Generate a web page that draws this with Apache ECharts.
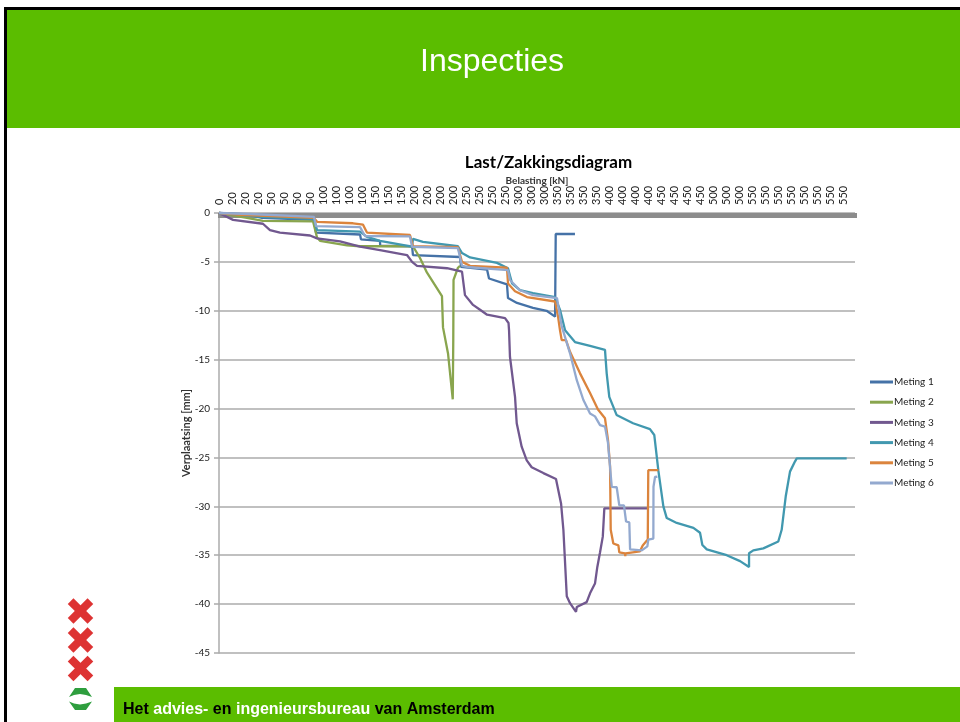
<!DOCTYPE html>
<html><head><meta charset="utf-8">
<style>html,body{margin:0;padding:0;background:#fff}#c{width:960px;height:722px}</style>
<script src="https://cdn.jsdelivr.net/npm/echarts@6/dist/echarts.min.js"></script>
</head><body><div id="c"></div>
<script>
// X values are positions along the ordinal load axis (0 = first reading); Y values are mm.
const tickLabels = ['0','20','20','20','50','50','50','50','100','100','100','100','150','150','150','200','200','200','200','250','250','250','250','300','300','300','350','350','350','350','400','400','400','400','450','450','450','450','500','500','500','550','550','550','550','550','550','550','550'];
const meting1 = [[0,0],[2.15,-0.15],[3.31,-0.5],[7.31,-0.7],[7.46,-2],[10.85,-2.2],[10.92,-2.7],[12.38,-2.85],[12.4,-3.35],[14.85,-3.4],[14.92,-4.3],[18.54,-4.5],[18.62,-5.5],[20.62,-5.8],[20.77,-6.7],[22.15,-7.3],[22.23,-8.7],[22.92,-9.2],[24.15,-9.7],[25.2,-10],[25.85,-10.6],[25.9,-2.15],[27.38,-2.15]];
const meting2 = [[0,0],[2.15,-0.5],[3.38,-0.8],[7.23,-0.85],[7.54,-2.5],[7.77,-2.85],[9.85,-3.3],[10.85,-3.4],[14.92,-3.4],[15.46,-4.6],[16,-6.1],[17.15,-8.5],[17.23,-11.7],[17.62,-14.4],[17.98,-19.05],[18.02,-13],[18.04,-6.85],[18.38,-5.6],[18.54,-5.4]];
const meting3 = [[0,0],[1.08,-0.7],[3.38,-1.1],[3.92,-1.75],[4.69,-2],[7,-2.3],[7.54,-2.6],[9.31,-2.9],[10.85,-3.45],[12.38,-3.8],[14.46,-4.3],[14.85,-5],[15.23,-5.4],[17.54,-5.65],[18.69,-6],[18.92,-8.4],[19.54,-9.4],[20.08,-9.9],[20.62,-10.4],[22,-10.75],[22.27,-11.25],[22.31,-12],[22.38,-14.7],[22.77,-18.8],[22.9,-21.5],[23.28,-23.9],[23.67,-25.3],[24.05,-26],[24.95,-26.6],[25.92,-27.2],[26.31,-29.7],[26.49,-32.4],[26.62,-35.8],[26.75,-39.2],[27,-39.9],[27.46,-40.8],[27.52,-40.3],[28.28,-39.8],[28.54,-38.9],[28.92,-37.9],[29.1,-36.2],[29.31,-34.7],[29.52,-33.1],[29.64,-30.2],[33.02,-30.2]];
const meting4 = [[0,0],[3.31,-0.4],[7.31,-0.6],[7.54,-1.75],[10.85,-1.9],[11.38,-2.45],[12.38,-2.85],[14.85,-3.45],[14.92,-2.65],[15.69,-2.95],[18.38,-3.4],[18.69,-4.1],[19.31,-4.55],[21.38,-5.1],[22.23,-5.65],[22.54,-7.2],[23.15,-7.9],[24.15,-8.2],[25.85,-8.6],[26.23,-9.9],[26.62,-12],[27.38,-13.2],[28.54,-13.6],[29.69,-14],[29.82,-16.4],[30.02,-18.8],[30.58,-20.65],[31.85,-21.5],[33.15,-22.1],[33.48,-22.7],[33.79,-26.3],[34.18,-30],[34.44,-31.2],[35.21,-31.7],[36.49,-32.2],[37,-32.7],[37.18,-33.95],[37.52,-34.4],[39.05,-35],[40.08,-35.6],[40.77,-36.2],[40.77,-34.8],[41.1,-34.5],[41.87,-34.3],[43.02,-33.6],[43.28,-32.4],[43.59,-29],[43.92,-26.45],[44.31,-25.4],[44.44,-25.1],[48.28,-25.1]];
const meting5 = [[0,0],[1.62,-0.2],[7.31,-0.5],[7.54,-0.9],[10.31,-1.05],[11.08,-1.2],[11.38,-2],[14.69,-2.25],[14.92,-3.4],[18.38,-3.5],[18.69,-5],[19.31,-5.4],[22.15,-5.6],[22.23,-7.2],[22.77,-8],[23.69,-8.6],[25.85,-9.05],[26.08,-10.6],[26.23,-12],[26.36,-13],[26.69,-13],[27,-14.2],[27.77,-16.4],[28.54,-18.4],[29.15,-20.1],[29.69,-21],[29.92,-23.2],[30.08,-25.9],[30.13,-32.4],[30.33,-33.8],[30.72,-34],[30.79,-34.7],[31.23,-34.8],[31.25,-35.1],[31.27,-34.8],[32.38,-34.6],[32.59,-34],[32.98,-33.4],[33.02,-26.3],[33.79,-26.3]];
const meting6 = [[0,0],[2.38,-0.1],[7.31,-0.4],[7.46,-1.35],[10.85,-1.45],[11.23,-2.35],[14.69,-2.4],[14.85,-3.45],[18.38,-3.6],[18.69,-5.4],[19.31,-5.55],[22.23,-5.85],[22.38,-6.85],[23.15,-7.9],[24.15,-8.4],[26,-8.7],[26.36,-11.6],[26.46,-12],[27,-14.35],[27.52,-17.1],[28.02,-19.1],[28.54,-20.5],[28.92,-20.8],[29.31,-21.7],[29.69,-21.85],[29.92,-23.5],[30.21,-28],[30.59,-28.05],[30.79,-29.9],[31.15,-29.9],[31.31,-31.55],[31.56,-31.65],[31.62,-34.4],[32.52,-34.5],[32.95,-34.1],[33.02,-33.4],[33.41,-33.3],[33.42,-28],[33.54,-27],[33.72,-26.95]];
const seriesNames = ['Meting 1','Meting 2','Meting 3','Meting 4','Meting 5','Meting 6'];
const seriesData = [meting1,meting2,meting3,meting4,meting5,meting6];
const colors = ['#4572A7','#89A54E','#71588F','#4198AF','#DB843D','#93A9CF'];
const FONT = 'Lato, "Noto Sans", sans-serif';
const GREEN = '#5BBD00';

function cross(cx, cy) {
  const bar = a => ({type:'rect', shape:{x:-14,y:-4,width:28,height:8}, rotation:a, style:{fill:'#DD3333'}});
  return {type:'group', x:cx, y:cy, children:[bar(Math.PI/4), bar(-Math.PI/4)]};
}
const chart = echarts.init(document.getElementById('c'), null, {renderer:'canvas'});
chart.setOption({
  animation:false,
  backgroundColor:'#fff',
  color:colors,
  title:{text:'Last/Zakkingsdiagram', left:543.5, top:149, textAlign:'center',
    textStyle:{fontFamily:FONT, fontSize:17, fontWeight:'bold', color:'#000'}},
  legend:{orient:'vertical', left:865, top:372, icon:'rect', itemWidth:23, itemHeight:3, itemGap:10.2,
    data:seriesNames, textStyle:{fontFamily:FONT, fontSize:10, color:'#222', padding:[0,0,0,-4]}},
  grid:{left:219, top:213, width:636, height:440, containLabel:false},
  xAxis:{type:'value', position:'top', min:0, max:48.92, interval:1,
    name:'Belasting [kN]', nameLocation:'middle', nameGap:27, nameRotate:0, nameMoveOverlap:false,
    nameTextStyle:{fontFamily:FONT, fontSize:10, fontWeight:'bold', color:'#333'},
    axisLine:{show:false},
    axisTick:{show:true, inside:true, length:5, lineStyle:{color:'#8C8C8C', width:3}},
    minorTick:{show:true, splitNumber:5, length:5, lineStyle:{color:'#8C8C8C', width:3}},
    splitLine:{show:false},
    axisLabel:{rotate:90, margin:8, fontFamily:FONT, fontSize:11, color:'#222', showMaxLabel:false,
      formatter:v => Number.isInteger(v) && tickLabels[v] !== undefined ? tickLabels[v] : ''}},
  yAxis:{type:'value', min:-45, max:0, interval:5,
    name:'Verplaatsing [mm]', nameLocation:'middle', nameGap:27, nameRotate:90, nameMoveOverlap:false,
    nameTextStyle:{fontFamily:FONT, fontSize:11, fontWeight:'bold', color:'#333'},
    axisLine:{show:true, onZero:false, lineStyle:{color:'#ABABAB', width:1.5}},
    axisTick:{show:true, length:5, lineStyle:{color:'#ABABAB', width:1.5}},
    axisLabel:{margin:9, fontFamily:FONT, fontSize:10, color:'#222'},
    splitLine:{show:true, lineStyle:{color:'#ABABAB', width:1.5}}},
  series:seriesNames.map((n,i)=>({name:n, type:'line', data:seriesData[i], showSymbol:false, symbol:'none',
    smooth:false, lineStyle:{width:2.3, color:colors[i]}, itemStyle:{color:colors[i]}, clip:false})),
  graphic:[
    {type:'rect', z:-1, shape:{x:4,y:7,width:956,height:3}, style:{fill:'#000'}},
    {type:'rect', z:-1, shape:{x:4,y:7,width:3,height:715}, style:{fill:'#000'}},
    {type:'rect', z:-1, shape:{x:7,y:10,width:953,height:118}, style:{fill:GREEN}},
    {type:'text', left:420, top:46, style:{text:'Inspecties', fill:'#fff', font:'32px "Liberation Sans", Arial, sans-serif'}},
    {type:'rect', z:-1, shape:{x:114,y:687,width:846,height:35}, style:{fill:GREEN}},
    {type:'text', left:123, top:702, style:{
      rich:{k:{fill:'#000', font:'bold 16px "Liberation Sans", Arial, sans-serif'},
            w:{fill:'#fff', font:'bold 16px "Liberation Sans", Arial, sans-serif'}},
      text:'{k|Het }{w|advies-}{k| en }{w|ingenieursbureau}{k| van Amsterdam}'}},
    cross(80.5,611), cross(80.5,640), cross(80.5,668.5),
    {type:'polygon', shape:{points:[[69,697],[75,688],[86,688],[92,697],[86,695],[80,694],[74,695]]}, style:{fill:'#2E9E3E'}},
    {type:'polygon', shape:{points:[[69,701.5],[74,703.5],[80,704.5],[86,703.5],[92,701.5],[86,710],[75,710]]}, style:{fill:'#2E9E3E'}}
  ]
});
</script></body></html>
